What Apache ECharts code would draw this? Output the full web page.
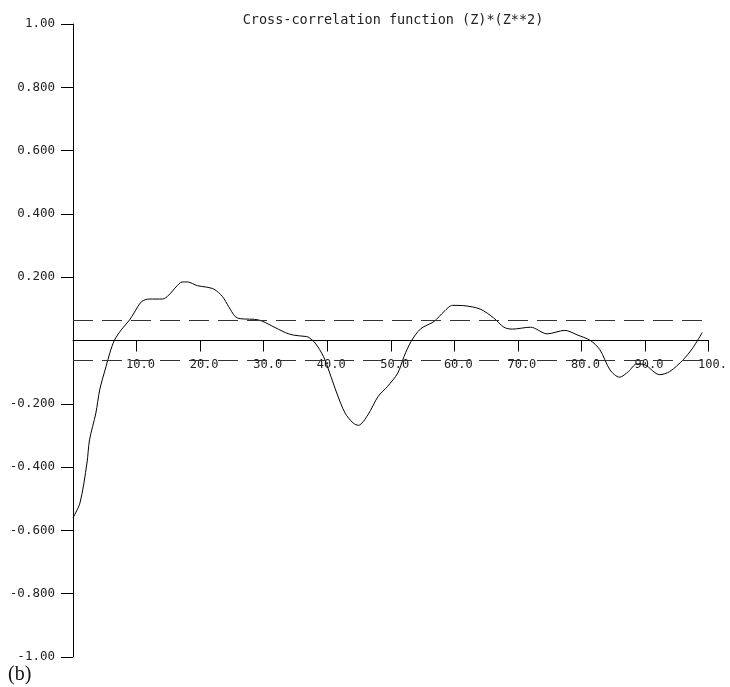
<!DOCTYPE html>
<html>
<head>
<meta charset="utf-8">
<script src="https://cdn.jsdelivr.net/npm/echarts@6/dist/echarts.min.js"></script>
<style>
  html, body { margin: 0; padding: 0; background: #fff; }
  #chart { width: 730px; height: 687px; }
</style>
</head>
<body>
<div id="chart"></div>
<script>
// lag and correlation values
const lags = [0, 1.1, 2.2, 2.6, 3.6, 4.2, 5.2, 5.8, 6.5, 7.6, 8.9, 9.6, 10.8, 12, 14.1, 15.1, 16.2, 17.2, 18, 19.6,
  20.9, 22.2, 23.5, 24.5, 25.5, 26.3, 29.2, 31.3, 33.4, 34.7, 36.5, 37, 38.1, 39.4, 40.4, 41.5, 42.8, 44.1, 44.9,
  46.4, 48, 49.5, 51.1, 52.1, 53.2, 54.7, 56.8, 58.4, 59.7, 61.5, 64.1, 66.2, 67.8, 69.1, 72, 74.6, 77.4, 79.3,
  81.4, 82.9, 84.5, 86, 87.4, 88.7, 90, 92.3, 93.9, 96, 97.5, 99]
const ccf = [-0.56, -0.513, -0.387, -0.314, -0.229, -0.156, -0.082, -0.039, 0, 0.034, 0.065, 0.087, 0.123, 0.131, 0.131,
  0.144, 0.169, 0.185, 0.185, 0.173, 0.169, 0.162, 0.139, 0.107, 0.076, 0.069, 0.065, 0.046, 0.025, 0.017, 0.013,
  0.011, -0.008, -0.05, -0.103, -0.166, -0.229, -0.261, -0.268, -0.235, -0.177, -0.145, -0.103, -0.05, -0.003,
  0.037, 0.06, 0.092, 0.111, 0.11, 0.099, 0.071, 0.042, 0.036, 0.042, 0.021, 0.032, 0.018, 0, -0.029, -0.093,
  -0.116, -0.098, -0.074, -0.077, -0.108, -0.098, -0.061, -0.024, 0.025]
const bounds = [0.063, -0.063]
const xTicks = [10, 20, 30, 40, 50, 60, 70, 80, 90, 100]
const yTicks = [-1, -0.8, -0.6, -0.4, -0.2, 0.2, 0.4, 0.6, 0.8, 1]
const titleText = 'Cross-correlation function (Z)*(Z**2)'

var myChart = echarts.init(document.getElementById('chart'))
var mono = 'DejaVu Sans Mono'
var gridTop = 24
var gridBottom = 30
var plotH = 687 - gridTop - gridBottom
var option = {
  animation: false,
  title: {
    text: titleText,
    left: 388,
    top: 8,
    textAlign: 'center',
    textStyle: { fontFamily: mono, fontSize: 13.5, fontWeight: 'normal', color: '#222' },
  },
  grid: { left: 73, right: 17, top: gridTop, bottom: gridBottom },
  xAxis: {
    type: 'value',
    min: 0,
    max: 100,
    interval: 10,
    // axis sits on y = 0, i.e. half way up the plot
    offset: -plotH / 2,
    splitLine: { show: false },
    axisLine: { onZero: false, lineStyle: { color: '#000', width: 1 } },
    axisTick: { length: 11, customValues: xTicks, lineStyle: { color: '#000' } },
    axisLabel: {
      margin: 18,
      customValues: xTicks,
      fontFamily: mono,
      fontSize: 12,
      color: '#222',
      padding: [0, 0, 0, 8],
      formatter: function (v) {
        if (v === 100) return '100.'
        return v.toFixed(1)
      },
    },
  },
  yAxis: {
    type: 'value',
    min: -1,
    max: 1,
    interval: 0.2,
    splitLine: { show: false },
    axisLine: { show: true, onZero: false, lineStyle: { color: '#000', width: 1 } },
    axisTick: { show: true, length: 12, customValues: yTicks, lineStyle: { color: '#000' } },
    axisLabel: {
      margin: 18,
      customValues: yTicks,
      fontFamily: mono,
      fontSize: 12.5,
      color: '#222',
      formatter: function (v) {
        if (Math.abs(Math.abs(v) - 1) < 1e-9) return v > 0 ? '1.00' : '-1.00'
        return v.toFixed(3)
      },
    },
  },
  series: [
    {
      type: 'line',
      data: lags.map((x, i) => [x, ccf[i]]),
      showSymbol: false,
      smooth: 0.3,
      lineStyle: { color: '#000', width: 1 },
      markLine: {
        silent: true,
        symbol: 'none',
        label: { show: false },
        lineStyle: { color: '#333', width: 1.2, type: [20, 9] },
        data: bounds.map((b) => [{ coord: [0, b] }, { coord: [100, b] }]),
      },
    },
  ],
  graphic: [
    {
      type: 'text',
      left: 8,
      top: 665,
      style: { text: '(b)', font: '20px "Liberation Serif"', fill: '#111' },
    },
  ],
}
myChart.setOption(option)
</script>
</body>
</html>
